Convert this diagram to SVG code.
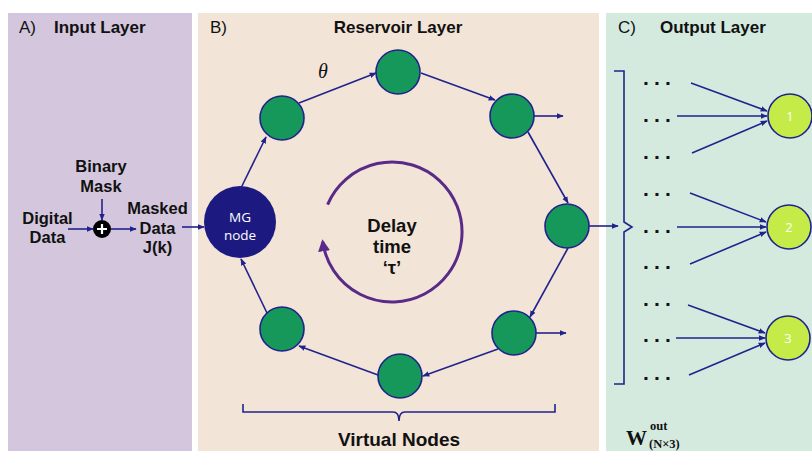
<svg xmlns="http://www.w3.org/2000/svg" width="812" height="451" viewBox="0 0 812 451">
<style>
.t{font-family:"Liberation Sans",Arial,sans-serif;fill:#111;}
.b{font-weight:bold;}
.ln{stroke:#22228c;stroke-width:1.6;fill:none;}
.vn{fill:#15985a;stroke:#22228c;stroke-width:1.6;}
.on{fill:#c4eb47;stroke:#22228c;stroke-width:1.6;}
.dots{font-family:"Liberation Sans",Arial,sans-serif;font-weight:bold;font-size:21px;letter-spacing:5.2px;fill:#111;}
.wl{font-family:"Liberation Serif","Times New Roman",serif;font-weight:bold;fill:#111;}
</style>
<defs>
<marker id="ah" viewBox="0 0 10 10" refX="9" refY="5" markerWidth="7" markerHeight="7" markerUnits="userSpaceOnUse" orient="auto"><path d="M0,1 L10,5 L0,9 z" fill="#22228c"/></marker>
<marker id="ap" viewBox="0 0 10 10" refX="8" refY="5" markerWidth="12" markerHeight="12" markerUnits="userSpaceOnUse" orient="auto"><path d="M0,0 L10,5 L0,10 z" fill="#5a2a88"/></marker>
</defs>
<rect width="812" height="451" fill="#ffffff"/>
<g id="panelA">
<rect x="8" y="13" width="184" height="438" fill="#d4c7dd"/>
<text class="t" x="19" y="33" font-size="17">A)</text>
<text class="t b" x="54" y="33" font-size="17">Input Layer</text>
</g>
<g id="panelB">
<rect x="198" y="13" width="401" height="438" fill="#f2e4d7"/>
<text class="t" x="210" y="33" font-size="17">B)</text>
<text class="t b" x="398" y="33" font-size="17" text-anchor="middle">Reservoir Layer</text>
</g>
<g id="panelC">
<rect x="606" y="13" width="206" height="438" fill="#d5eadf"/>
<text class="t" x="618" y="33" font-size="17">C)</text>
<text class="t b" x="660" y="33" font-size="17">Output Layer</text>
</g>
<g id="input-labels">
<text class="t b" font-size="16.5" text-anchor="middle"><tspan x="101" y="172">Binary</tspan><tspan x="101" y="192">Mask</tspan></text>
<text class="t b" font-size="16.5" text-anchor="middle"><tspan x="47.5" y="224">Digital</tspan><tspan x="47.5" y="243">Data</tspan></text>
<text class="t b" font-size="16.5" text-anchor="middle"><tspan x="157.5" y="214">Masked</tspan><tspan x="157.5" y="234">Data</tspan><tspan x="157.5" y="253">J(k)</tspan></text>
</g>
<g id="sum">
<circle cx="102" cy="229" r="9" fill="#000"/>
<path d="M97,229 H107 M102,224 V234" stroke="#fff" stroke-width="2.2"/>
</g>
<g id="mg-node">
<circle cx="240" cy="222" r="36" fill="#1c1a80"/>
<text x="240" y="222" font-family="'Open Sans','Noto Sans',sans-serif" font-size="13.5" fill="#fff" text-anchor="middle">MG</text>
<text x="240" y="240" font-family="'Open Sans','Noto Sans',sans-serif" font-size="13.5" fill="#fff" text-anchor="middle">node</text>
</g>
<g id="v1"><circle class="vn" cx="282" cy="118" r="22"/></g>
<g id="v2"><circle class="vn" cx="398" cy="72" r="22"/></g>
<g id="v3"><circle class="vn" cx="512" cy="116" r="22"/></g>
<g id="v4"><circle class="vn" cx="567" cy="226" r="22"/></g>
<g id="v5"><circle class="vn" cx="514" cy="333" r="22"/></g>
<g id="v6"><circle class="vn" cx="400" cy="376" r="22"/></g>
<g id="v7"><circle class="vn" cx="282" cy="329" r="22"/></g>
<g id="o1"><circle class="on" cx="790" cy="116" r="22"/><text x="790" y="121" font-family="'Open Sans','Noto Sans',sans-serif" font-size="13" fill="#fff" text-anchor="middle">1</text></g>
<g id="o2"><circle class="on" cx="789" cy="227" r="22"/><text x="789" y="232" font-family="'Open Sans','Noto Sans',sans-serif" font-size="13" fill="#fff" text-anchor="middle">2</text></g>
<g id="o3"><circle class="on" cx="788" cy="338" r="22"/><text x="788" y="343" font-family="'Open Sans','Noto Sans',sans-serif" font-size="13" fill="#fff" text-anchor="middle">3</text></g>
<g id="delay">
<path d="M327.6,204.6 A70,70 0 1 1 322.7,241.7" stroke="#5a2a88" stroke-width="3" fill="none" marker-end="url(#ap)"/>
<text class="t b" font-size="18.5" text-anchor="middle"><tspan x="392" y="232">Delay</tspan><tspan x="392" y="253">time</tspan><tspan x="392" y="274">‘τ’</tspan></text>
</g>
<g id="theta"><text x="318" y="78" font-family="'Liberation Serif','Times New Roman',serif" font-style="italic" font-size="20" fill="#111">θ</text></g>
<g id="virtual-nodes">
<path class="ln" d="M243,404 V412 H393 Q399,412 399,421 Q399,412 405,412 H555 V404"/>
<text class="t b" x="399" y="446" font-size="19" text-anchor="middle">Virtual Nodes</text>
</g>
<g id="output-bracket">
<path class="ln" d="M614,71 H624 V222 L632,227 L624,232 V384 H614"/>
<text class="dots" x="643" y="85">...</text>
<text class="dots" x="643" y="122">...</text>
<text class="dots" x="643" y="159">...</text>
<text class="dots" x="643" y="196">...</text>
<text class="dots" x="643" y="233">...</text>
<text class="dots" x="643" y="269">...</text>
<text class="dots" x="643" y="306">...</text>
<text class="dots" x="643" y="342">...</text>
<text class="dots" x="643" y="380">...</text>
</g>
<g id="weights">
<text class="wl" x="626" y="445" font-size="21">W</text>
<text class="wl" x="650" y="430" font-size="12.5">out</text>
<text class="wl" x="649" y="448" font-size="12.5">(N×3)</text>
</g>
<g id="connectors">
<line class="ln" x1="68" y1="229" x2="93" y2="229" marker-end="url(#ah)"/>
<line class="ln" x1="102" y1="199" x2="102" y2="220" marker-end="url(#ah)"/>
<line class="ln" x1="111" y1="229" x2="136" y2="229" marker-end="url(#ah)"/>
<line class="ln" x1="182" y1="227" x2="204" y2="227" marker-end="url(#ah)"/>
<line class="ln" x1="240" y1="190" x2="266" y2="137" marker-end="url(#ah)"/>
<line class="ln" x1="299" y1="103" x2="376" y2="73" marker-end="url(#ah)"/>
<line class="ln" x1="421" y1="73" x2="495" y2="100" marker-end="url(#ah)"/>
<line class="ln" x1="528" y1="132" x2="568" y2="203" marker-end="url(#ah)"/>
<line class="ln" x1="534" y1="116" x2="563" y2="116" marker-end="url(#ah)"/>
<line class="ln" x1="589" y1="226" x2="618" y2="226" marker-end="url(#ah)"/>
<line class="ln" x1="568" y1="248" x2="530" y2="317" marker-end="url(#ah)"/>
<line class="ln" x1="536" y1="333" x2="566" y2="333" marker-end="url(#ah)"/>
<line class="ln" x1="498" y1="349" x2="423" y2="376" marker-end="url(#ah)"/>
<line class="ln" x1="378" y1="375" x2="299" y2="346" marker-end="url(#ah)"/>
<line class="ln" x1="267" y1="313" x2="241" y2="259" marker-end="url(#ah)"/>
<line class="ln" x1="691" y1="83" x2="767" y2="111" marker-end="url(#ah)"/>
<line class="ln" x1="677" y1="116" x2="767" y2="116" marker-end="url(#ah)"/>
<line class="ln" x1="692" y1="153" x2="767" y2="121" marker-end="url(#ah)"/>
<line class="ln" x1="690" y1="193" x2="766" y2="222" marker-end="url(#ah)"/>
<line class="ln" x1="677" y1="227" x2="766" y2="227" marker-end="url(#ah)"/>
<line class="ln" x1="690" y1="264" x2="766" y2="232" marker-end="url(#ah)"/>
<line class="ln" x1="688" y1="305" x2="765" y2="333" marker-end="url(#ah)"/>
<line class="ln" x1="676" y1="338" x2="765" y2="338" marker-end="url(#ah)"/>
<line class="ln" x1="689" y1="375" x2="765" y2="343" marker-end="url(#ah)"/>
</g>
</svg>
